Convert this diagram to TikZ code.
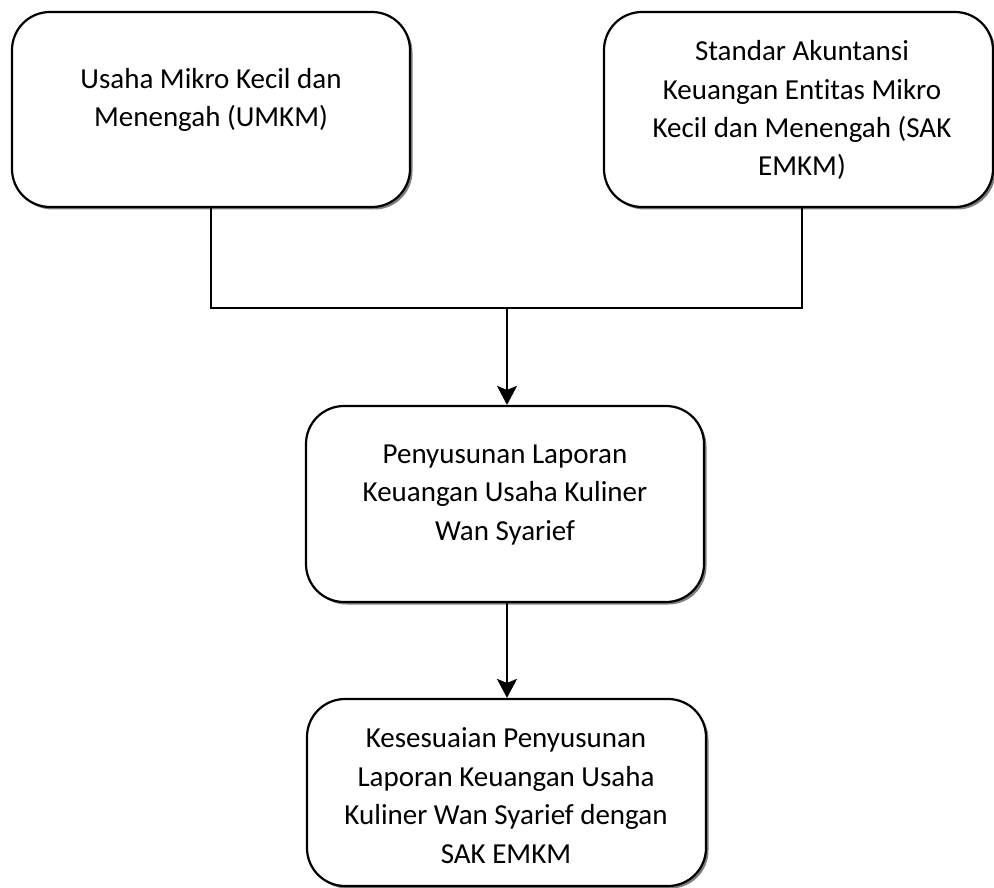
\documentclass[tikz,border=0pt]{standalone}
\usepackage{fontspec}
\setmainfont{Carlito}[Ligatures=NoCommon]
\usetikzlibrary{arrows.meta,shadows}
\begin{document}
\begin{tikzpicture}[x=1pt,y=-1pt,
  box/.style={draw=black, line width=2.2pt, rounded corners=38pt, fill=white,
    drop shadow={shadow xshift=2.5pt,shadow yshift=-2.5pt,opacity=0.5,fill=black},
    inner sep=0pt},
  lbl/.style={align=center, font=\fontsize{29}{38.5}\selectfont, inner sep=0pt, anchor=base},
  conn/.style={line width=1.9pt},
  arr/.style={conn, -{Stealth[length=19pt,width=20pt,inset=4pt]}}]
\useasboundingbox (0,0) rectangle (994,888);
\node[box, minimum width=398pt, minimum height=195pt] (umkm) at (211,109.5) {};
\node[box, minimum width=389pt, minimum height=195pt] (sak) at (798.5,109.5) {};
\node[box, minimum width=398pt, minimum height=196pt] (lap) at (505,504) {};
\node[box, minimum width=399pt, minimum height=187pt] (kes) at (506.5,792.5) {};
\node[lbl] (tumkm) at (211,127) {Usaha Mikro Kecil dan\\Menengah (UMKM)};
\node[lbl] (tsak) at (802,176) {Standar Akuntansi\\Keuangan Entitas Mikro\\Kecil dan Menengah (SAK\\EMKM)};
\node[lbl] (tlap) at (505,540) {Penyusunan Laporan\\Keuangan Usaha Kuliner\\Wan Syarief};
\node[lbl] (tkes) at (506,863) {Kesesuaian Penyusunan\\Laporan Keuangan Usaha\\Kuliner Wan Syarief dengan\\SAK EMKM};
\coordinate (j) at (507,308);
\coordinate (sakout) at ([xshift=3.5pt]sak.south);
\draw[conn] (umkm.south) |- (j);
\draw[conn] (sakout) |- (j);
\draw[arr] (j) -- (j |- lap.north);
\draw[arr] (j |- lap.south) -- (j |- kes.north);
\end{tikzpicture}
\end{document}
